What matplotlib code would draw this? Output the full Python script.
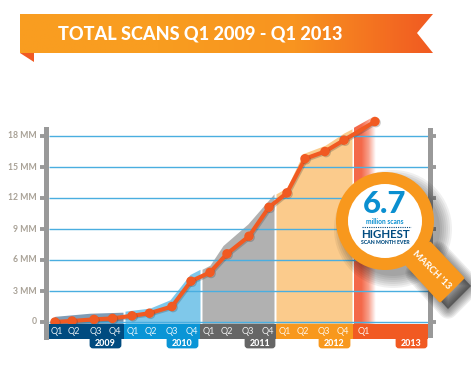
import numpy as np
import matplotlib
matplotlib.use("Agg")
import matplotlib.pyplot as plt
import matplotlib.patheffects as pe
from matplotlib.colors import LinearSegmentedColormap
from matplotlib.patches import Polygon, Circle, FancyBboxPatch

W, H = 471, 377

# values, total scans in MM
point_x = [55, 72, 94, 112.5, 132, 149.5, 172, 191, 210, 227, 249, 269, 287, 305, 325, 344, 375]
scans = [0.0, 0.1, 0.25, 0.35, 0.6, 0.85, 1.5, 3.95, 4.8, 6.6, 8.3, 11.1, 12.5, 15.8, 16.5, 17.6, 19.4]

y_ticks = [0, 3, 6, 9, 12, 15, 18]
y_labels = ["0", "3 MM", "6 MM", "9 MM", "12 MM", "15 MM", "18 MM"]

quarters = ["Q1", "Q2", "Q3", "Q4"] * 4 + ["Q1"]
quarter_x = [57, 74, 96, 115, 133, 151, 172, 192, 209, 227, 248, 268, 285, 303, 324, 343, 364]
years = ["2009", "2010", "2011", "2012", "2013"]

# shaded areas sit a little above the line
area_2009_x = [50, 55, 90, 123]
area_2009 = [0.05, 0.55, 0.85, 0.95]
area_2010_x = [125, 150, 170, 190, 200]
area_2010 = [1.05, 1.35, 2.15, 4.6, 5.1]
area_2011_x = [202, 210, 223, 248, 274]
area_2011 = [5.1, 5.5, 7.4, 9.5, 12.4]
area_2012_x = [276, 287, 303, 325, 344, 352]
area_2012 = [12.4, 13.0, 16.3, 17.1, 18.3, 18.7]
area_2013_x = [354, 376]
area_2013 = [18.8, 20.0]

fig = plt.figure(figsize=(W / 100, H / 100), dpi=100)
plt.rcParams["font.family"] = ["Lato", "DejaVu Sans"]

# chart axes: x in figure pixels, y in MM
ax = fig.add_axes([0, 0, 1, 1], zorder=1)
ax.axis("off")
# overlay in pixels for the ribbon, bands and magnifier
top = fig.add_axes([0, 0, 1, 1], zorder=2)
top.axis("off")
top.patch.set_alpha(0)
top.set_xlim(0, W)
top.set_ylim(H, 0)

ax.fill_between(area_2009_x, -0.2, area_2009, color="#7f9cb6", lw=0, zorder=1)
ax.fill_between(area_2010_x, -0.2, area_2010, color="#7fc8ea", lw=0, zorder=1)
ax.fill_between(area_2011_x, -0.2, area_2011, color="#b1b1b1", lw=0, zorder=1)
ax.fill_between(area_2012_x, -0.2, area_2012, color="#fbcb8c", lw=0, zorder=1)

fade = LinearSegmentedColormap.from_list("fade", ["#f4694a", "#f4694a", "#f8a08c", "#ffffff"])
im = ax.imshow(np.linspace(0, 1, 64).reshape(1, -1), cmap=fade, aspect="auto",
               extent=(354, 376, -0.2, 20), zorder=1)
clip = Polygon([(354, -0.2), (354, area_2013[0]), (376, area_2013[1]), (376, -0.2)],
               transform=ax.transData, fc="none", ec="none")
ax.add_patch(clip)
im.set_clip_path(clip)

ax.hlines(y_ticks, 49, 428, color="#4aaee0", lw=1.0, zorder=2)

ax.plot(point_x, scans, color="#f15a22", lw=3.0, marker="o", ms=5.8, zorder=3,
        solid_capstyle="round",
        path_effects=[pe.SimpleLineShadow(offset=(0.8, -0.8), alpha=0.25, shadow_color="#333333"), pe.Normal()])

for t, lab in zip(y_ticks, y_labels):
    ax.text(37, t, lab, ha="right", va="center", fontsize=6.2, color="#a8a196", fontweight="bold")
    ax.hlines(t, 40, 45, color="#999999", lw=2.8, zorder=2)
    ax.hlines(t, 432, 436, color="#999999", lw=2.8, zorder=2)

ax.set_xlim(0, W)
ax.set_ylim((322 - H) * 3 / 31, 322 * 3 / 31)

# side bars
top.fill_between([44, 49], 127, 340, color="#999999", lw=0)
top.fill_between([428, 433], 128, 338, color="#999999", lw=0)

# quarter bands and year tabs
band_edges = [49, 124, 200, 276, 353, 428]
band_colors = ["#004b80", "#0a95d6", "#666666", "#f8981d", "#f15a22"]
tab_edges = [(89, 122), (166, 199), (244, 276), (318, 351), (395, 428)]
for i, y in enumerate(years):
    top.fill_between(band_edges[i:i + 2], 324, 339, color=band_colors[i], lw=0)
    x0, x1 = tab_edges[i]
    top.add_patch(FancyBboxPatch((x0 + 2, 337), x1 - x0 - 4, 10, boxstyle="round,pad=0,rounding_size=2",
                                 mutation_aspect=1, fc=band_colors[i], ec=band_colors[i], lw=2))
    top.text((x0 + x1) / 2, 343.5, y, ha="center", va="center", color="white", fontsize=6.4, fontweight="black")
for x, q in zip(quarter_x, quarters):
    top.text(x, 332, q, ha="center", va="center", color="#ffffff", fontsize=6.6, alpha=0.9)

# title ribbon
ribbon_pts = [(20, 14), (433, 14), (417, 33), (433, 53), (20, 53)]
grad = LinearSegmentedColormap.from_list("rib", ["#f99d20", "#f99d20", "#f8941f", "#f15a22"])
rib = top.imshow(np.linspace(0, 1, 256).reshape(1, -1), cmap=grad, aspect="auto", extent=(20, 433, 53, 14))
rib_clip = Polygon(ribbon_pts, transform=top.transData, fc="none", ec="none")
top.add_patch(rib_clip)
rib.set_clip_path(rib_clip)
top.add_patch(Polygon([(20, 53), (34, 53), (34, 62)], fc="#f15a22", ec="none"))
top.text(58, 34.5, "TOTAL SCANS Q1 2009 - Q1 2013", ha="left", va="center", color="white",
         fontsize=13.1, fontweight="black")

# magnifier
cx, cy, r_out, r_in = 385, 221, 49, 37
handle = [(407, 265), (430, 243), (463, 278), (440, 301)]
for grow in range(14, 0, -2):
    off = 8
    top.add_patch(Circle((cx + off, cy + off), r_out + grow - 4, fc="black", ec="none", alpha=0.06))
    pts = [(px + off, py + off) for px, py in handle]
    top.add_patch(Polygon(pts, fc="black", ec="black", lw=grow, alpha=0.07, joinstyle="round"))
top.add_patch(Polygon(handle, fc="#f8981d", ec="#f8981d", lw=2, joinstyle="round"))
top.add_patch(Circle((cx, cy), r_out, fc="#f8981d", ec="none"))
top.add_patch(Circle((cx, cy), r_in, fc="white", ec="none"))
top.text(cx, 204, "6.7", ha="center", va="center", color="#0a8fd0", fontsize=22.5, fontweight="black")
top.text(cx, 222, "million scans", ha="center", va="center", color="#0a8fd0", fontsize=4.8, fontweight="bold")
top.plot([362, 411], [227, 227], color="#004b80", lw=0.8, ls=(0, (1, 1)))
top.text(cx, 234.5, "HIGHEST", ha="center", va="center", color="#004b80", fontsize=8.3, fontweight="bold")
top.text(cx, 243, "SCAN MONTH EVER", ha="center", va="center", color="#004b80", fontsize=3.7, fontweight="black")
top.text(432, 270, "MARCH '13", ha="center", va="center", color="white", fontsize=6.8, fontweight="bold",
         rotation=-45, rotation_mode="anchor")
top.set_xlim(0, W)
top.set_ylim(H, 0)

fig.savefig("out.png", dpi=100)
